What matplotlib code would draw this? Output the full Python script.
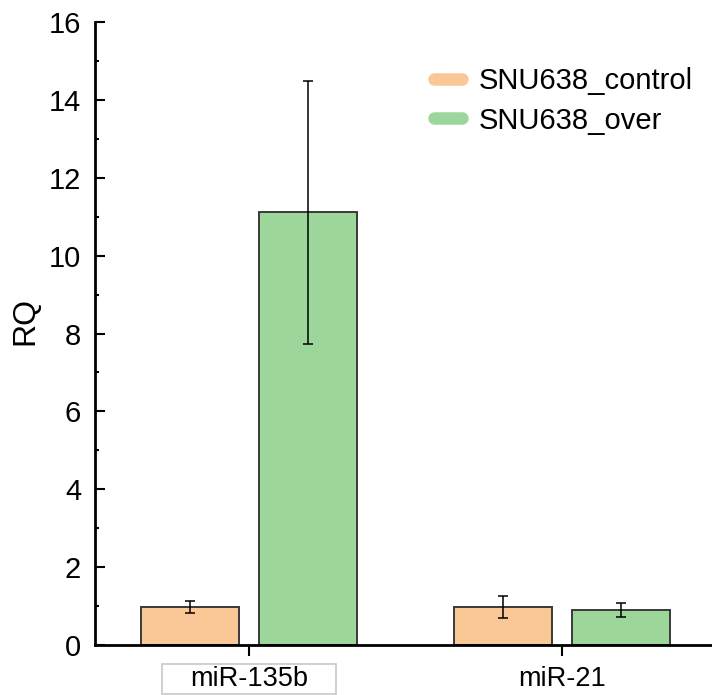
import matplotlib.pyplot as plt
from matplotlib.lines import Line2D
from matplotlib.patches import Rectangle
import numpy as np

plt.rcParams['font.family'] = ['Liberation Sans', 'DejaVu Sans']

# qPCR relative quantification
genes = ['miR-135b', 'miR-21']
groups = ['SNU638_control', 'SNU638_over']
rq_control = [0.98, 0.98]
err_control = [0.15, 0.29]
rq_over = [11.11, 0.91]
err_over = [3.37, 0.18]

colors = ['#FAC896', '#9DD69B']

fig = plt.figure(figsize=(7.12, 6.95), dpi=100)
ax = fig.add_axes([0.1334, 0.0719, 0.8666, 0.8964])

x = np.arange(len(genes))
w = 0.313
off = 0.1885

ax.bar(x - off, rq_control, w, color=colors[0], edgecolor='#3a3a3a', linewidth=1.4,
       yerr=err_control, error_kw=dict(ecolor='black', elinewidth=1.1, capsize=3.8, capthick=1.1))
ax.bar(x + off, rq_over, w, color=colors[1], edgecolor='#3a3a3a', linewidth=1.4,
       yerr=err_over, error_kw=dict(ecolor='black', elinewidth=1.1, capsize=3.8, capthick=1.1))

ax.set_xlim(-0.492, 1.48)
ax.set_ylim(0, 16)
ax.set_yticks(np.arange(0, 17, 2))
ax.set_yticks(np.arange(1, 16, 2), minor=True)
ax.set_xticks(x)
ax.set_xticklabels(genes, fontsize=19.5)
ax.tick_params(axis='y', which='major', direction='in', length=7.5, width=1.5, labelsize=21, pad=10)
ax.tick_params(axis='y', which='minor', direction='in', length=3.2, width=1.5)
ax.tick_params(axis='x', direction='out', length=8, width=1.5, pad=7)
ax.set_ylabel('RQ', fontsize=23)
ax.yaxis.set_label_coords(-0.088, 0.52)

for s in ['top', 'right']:
    ax.spines[s].set_visible(False)
for s in ['left', 'bottom']:
    ax.spines[s].set_linewidth(2)

handles = [Line2D([], [], color=c, linewidth=9, solid_capstyle='round') for c in colors]
fig.legend(handles, groups, loc='upper left', bbox_to_anchor=(434 / 712, 1 - 67 / 695),
           frameon=False, fontsize=21, handlelength=0.95, handletextpad=0.57,
           labelspacing=0.4, borderpad=0, borderaxespad=0)

# light frame around the first category label
fig.canvas.draw()
lbl = ax.get_xticklabels()[0]
bb = lbl.get_window_extent()
fw, fh = fig.bbox.width, fig.bbox.height
padx, pady = 28, 2
fig.patches.append(Rectangle(((bb.x0 - padx) / fw, (bb.y0 - pady) / fh),
                             (bb.width + 2 * padx) / fw, (bb.height + 2 * pady) / fh,
                             transform=fig.transFigure, fill=False,
                             edgecolor='#c8c8c8', linewidth=1.2, zorder=0))

fig.savefig('out.png', dpi=100)
